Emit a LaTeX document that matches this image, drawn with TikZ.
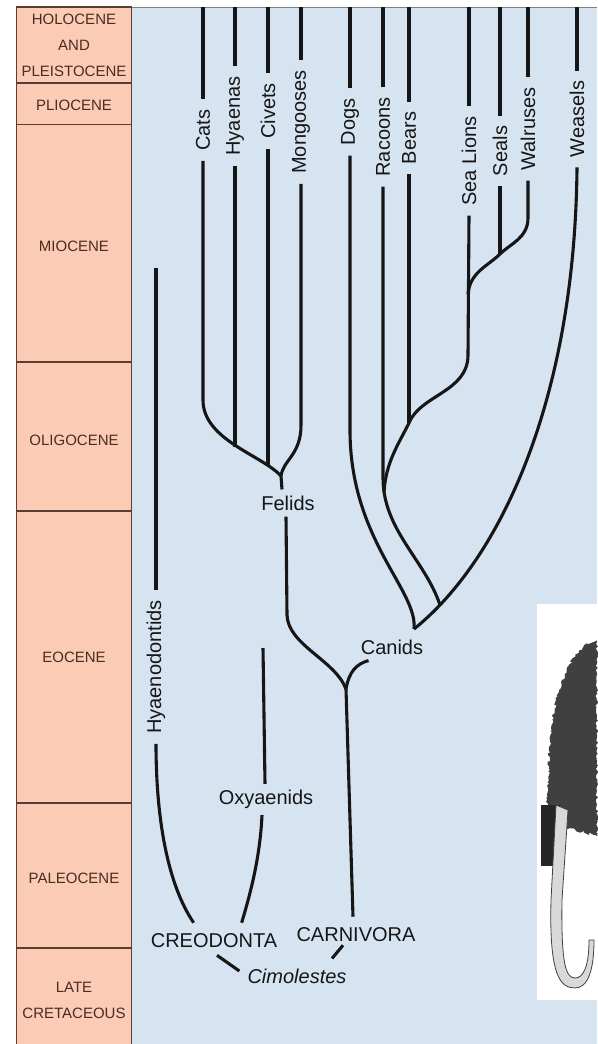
\documentclass[tikz,border=0pt]{standalone}
\usepackage{fontspec}
\setmainfont{Liberation Sans}
\usepackage{tikz}
\usetikzlibrary{calc,decorations.pathmorphing}
\definecolor{epoch}{HTML}{FBCBB5}
\definecolor{epochtext}{HTML}{4A2C22}
\definecolor{rulebrown}{HTML}{5C3B30}
\definecolor{panel}{HTML}{D6E4F1}
\definecolor{ink}{HTML}{161616}
\definecolor{fur}{HTML}{404040}

\begin{document}
\begin{tikzpicture}[x=1pt,y=-1pt,
  every node/.style={inner sep=6pt,text=ink,font=\fontsize{20}{24}\selectfont},
  taxon/.style={rotate=90,inner xsep=10pt,inner ysep=0pt},
  era/.style={text=epochtext,align=center,font=\fontsize{15}{26}\selectfont},
  branch/.style={draw=ink,line width=3.1pt},
  border/.style={draw=rulebrown,line width=1.1pt}]
  \useasboundingbox (0,0) rectangle (597,1044);
  \fill[white] (0,0) rectangle (597,1044);

  % epoch column and panel
  \fill[panel] (131.5,7) rectangle (597,1044);
  \draw[gray,line width=0.8pt] (131.5,7) -- (597,7);
  \fill[epoch] (16.5,7) rectangle (131.5,1044);
  \draw[border] (16.5,1044) -- (16.5,7) -- (131.5,7) -- (131.5,1044);
  \draw[border] (16.5,83) -- (131.5,83);
  \draw[border] (16.5,124.5) -- (131.5,124.5);
  \draw[border] (16.5,362) -- (131.5,362);
  \draw[border] (16.5,511) -- (131.5,511);
  \draw[border] (16.5,803) -- (131.5,803);
  \draw[border] (16.5,948) -- (131.5,948);

  \node[era] (holo) at (74,45) {HOLOCENE\\AND\\PLEISTOCENE};
  \node[era] (plio) at (74,105) {PLIOCENE};
  \node[era] (mio) at (74,246) {MIOCENE};
  \node[era] (oligo) at (74,440) {OLIGOCENE};
  \node[era] (eo) at (74,657) {EOCENE};
  \node[era] (paleo) at (74,878) {PALEOCENE};
  \node[era] (cret) at (74,1000) {LATE\\CRETACEOUS};

  \coordinate (top) at (0,7);

  % living groups
  \node[taxon] (cats) at (203,130) {Cats};
  \node[taxon] (hyaenas) at (235,116) {Hyaenas};
  \node[taxon] (civets) at (268,111) {Civets};
  \node[taxon] (mongooses) at (301,122) {Mongooses};
  \node[taxon] (dogs) at (350,122) {Dogs};
  \node[taxon] (racoons) at (383,137) {Racoons};
  \node[taxon] (bears) at (409,138) {Bears};
  \node[taxon] (sealions) at (469,161) {Sea Lions};
  \node[taxon] (seals) at (500,151) {Seals};
  \node[taxon] (walruses) at (528,129) {Walruses};
  \node[taxon] (weasels) at (577,119) {Weasels};
  \node[taxon] (hyaeno) at (156,667) {Hyaenodontids};

  \node (felids) at (288,503) {Felids};
  \node (canids) at (392,647) {Canids};
  \node (oxy) at (266,799.5) {Oxyaenids};
  \node (creo) at (214,941) {CREODONTA};
  \node (carni) at (356,935) {CARNIVORA};
  \node (cimo) at (297,976) {\itshape Cimolestes};

  \coordinate (fj) at (281,476);
  \coordinate (cj) at (346,689);
  \coordinate (dj) at (414,629);
  \coordinate (rj) at (440,605);
  \coordinate (bj) at (409,423);
  \coordinate (mj) at (384,492);
  \coordinate (plj) at (468,294);
  \coordinate (sj) at (500,254);
  \coordinate (hytop) at (156,268);
  \coordinate (oxtop) at (263,648);
  \coordinate (hyend) at ($(creo.north west)+(49,-5)$);
  \coordinate (oxend) at ($(creo.north west)+(97,-5)$);

  \draw[branch] (cats.east) -- (cats.east |- top);
  \draw[branch] (hyaenas.east) -- (hyaenas.east |- top);
  \draw[branch] (civets.east) -- (civets.east |- top);
  \draw[branch] (mongooses.east) -- (mongooses.east |- top);
  \draw[branch] (dogs.east) -- (dogs.east |- top);
  \draw[branch] (racoons.east) -- (racoons.east |- top);
  \draw[branch] (bears.east) -- (bears.east |- top);
  \draw[branch] (sealions.east) -- (sealions.east |- top);
  \draw[branch] (seals.east) -- (seals.east |- top);
  \draw[branch] (walruses.east) -- (walruses.east |- top);
  \draw[branch] (weasels.east) -- (weasels.east |- top);

  % cats and kin
  \draw[branch] (cats.west) -- (203,400) .. controls (203,440) and (262,455) .. (fj);
  \draw[branch] (hyaenas.west) -- (235,447);
  \draw[branch] (civets.west) -- (268,466);
  \draw[branch] (mongooses.west) -- (301,425) .. controls (301,455) and (283,460) .. (fj);
  \draw[branch] (fj) -- ([xshift=-6pt]felids.north);
  \draw[branch] ([xshift=-2pt]felids.south) -- (287,615) .. controls (288,645) and (335,660) .. (cj);

  % dogs and kin
  \draw[branch] (dogs.west) -- (350,430) .. controls (350,540) and (418,590) .. (dj);
  \draw[branch] (weasels.west) .. controls (575,400) and (500,560) .. (dj);
  \draw[branch] (racoons.west) -- (383,478) .. controls (383,530) and (425,560) .. (rj);
  \draw[branch] (bears.west) -- (bj);
  \draw[branch] (sealions.west) -- (468,355) .. controls (468,392) and (420,395) .. (bj)
    .. controls (398,445) and (386,462) .. (mj);
  \draw[branch] (walruses.west) -- (528,218) .. controls (528,238) and (510,244) .. (sj)
    .. controls (488,266) and (470,272) .. (plj);
  \draw[branch] (seals.west) -- (sj);
  \draw[branch] (cj) .. controls (349,672) and (356,664) .. (canids.210);
  \draw[branch] (cj) -- ($(carni.north)+(-3,-5)$);

  % creodonts
  \draw[branch] (hytop) -- (hyaeno.east);
  \draw[branch] (hyaeno.west) .. controls (156,820) and (168,885) .. (hyend);
  \draw[branch] (oxtop) -- ([xshift=-1pt]oxy.north);
  \draw[branch] ([xshift=-4pt]oxy.south) .. controls (260,860) and (249,898) .. (oxend);

  \draw[branch] ($(creo.south)+(3,1)$) -- ($(cimo.west)+(-2,-5)$);
  \draw[branch] ($(carni.south)+(-13,-3)$) -- ($(cimo.north)+(35,-4)$);

  % Cimolestes sketch
  \fill[white] (537,604) rectangle (597,1000);
  \fill[fur,decorate,decoration={random steps,segment length=2pt,amplitude=1.5pt}]
    (597,640) .. controls (574,645) and (556,680) .. (550,740) -- (546,822) -- (597,836) -- cycle;
  \fill[black!85] (541,805) rectangle (560,866);
  \filldraw[fill=gray!30,draw=black!75,line width=0.8pt]
    (556,805) -- (551,900) .. controls (549,975) and (560,988) .. (575,988)
    .. controls (588,988) and (594,970) .. (594,940) -- (589,940)
    .. controls (589,965) and (584,978) .. (575,978)
    .. controls (566,978) and (561,965) .. (562,900) -- (568,810) -- cycle;
\end{tikzpicture}
\end{document}
